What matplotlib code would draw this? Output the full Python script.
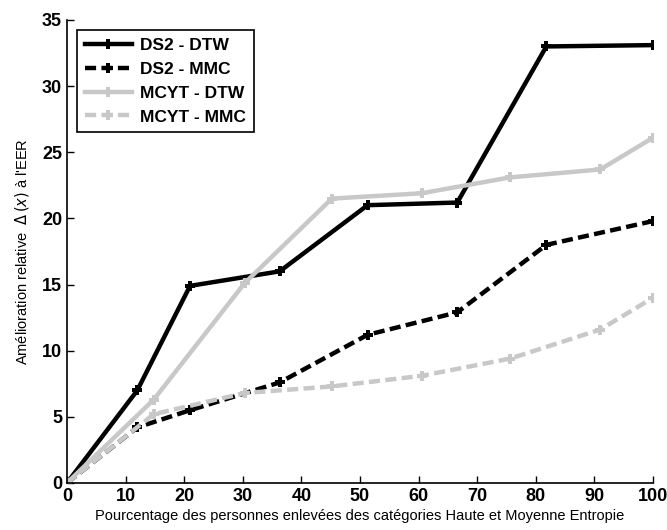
import numpy as np
import matplotlib.pyplot as plt

# values
x_ds2 = [0, 12, 21, 36.3, 51.3, 66.6, 81.8, 100]
ds2_dtw = [0, 7.0, 14.9, 16.0, 21.0, 21.2, 33.0, 33.1]
ds2_mmc = [0, 4.2, 5.5, 7.6, 11.2, 12.9, 18.0, 19.8]

x_mcyt = [0, 14.8, 30.3, 45.2, 60.5, 75.6, 91, 100]
mcyt_dtw = [0, 6.3, 15.1, 21.5, 21.9, 23.1, 23.7, 26.1]
mcyt_mmc = [0, 5.2, 6.8, 7.3, 8.1, 9.4, 11.6, 14.0]

xticks = list(range(0, 101, 10))
yticks = list(range(0, 36, 5))

gray = '#c8c8c8'
plt.rcParams['font.family'] = ['Liberation Sans', 'DejaVu Sans']

fig = plt.figure(figsize=(6.67, 5.30), dpi=100)
ax = fig.add_axes([0.1004, 0.0887, 0.8786, 0.8736])

style = dict(marker='P', markersize=7, linewidth=3.2, markeredgewidth=0)
ax.plot(x_ds2, ds2_dtw, '-', color='black', label='DS2 - DTW', **style)
ax.plot(x_ds2, ds2_mmc, '--', color='black', label='DS2 - MMC', dashes=(2.5, 1.2), **style)
ax.plot(x_mcyt, mcyt_dtw, '-', color=gray, label='MCYT - DTW', **style)
ax.plot(x_mcyt, mcyt_mmc, '--', color=gray, label='MCYT - MMC', dashes=(2.5, 1.2), **style)

ax.set_xlim(0, 100)
ax.set_ylim(0, 35)
ax.set_xticks(xticks)
ax.set_yticks(yticks)
ax.tick_params(direction='in', length=5, width=1, labelsize=13)
for lbl in ax.get_xticklabels() + ax.get_yticklabels():
    lbl.set_fontweight('bold')
ax.spines['top'].set_visible(False)
ax.spines['right'].set_visible(False)
ax.spines['left'].set_linewidth(1.2)
ax.spines['bottom'].set_linewidth(1.2)

ax.set_xlabel('Pourcentage des personnes enlevées des catégories Haute et Moyenne Entropie',
              fontsize=10.5, labelpad=3)
ax.set_ylabel(r"Amélioration relative  $\Delta\,(x)$ à l'EER",
              fontsize=10.5, labelpad=8)

leg = ax.legend(loc='upper left', bbox_to_anchor=(0.002, 0.997), fancybox=False,
                edgecolor='black', framealpha=1, handlelength=2.7, handletextpad=0.5,
                borderpad=0.45, labelspacing=0.5,
                prop={'weight': 'bold', 'size': 12.5})
leg.get_frame().set_linewidth(1.2)

fig.savefig('out.png', dpi=100)
